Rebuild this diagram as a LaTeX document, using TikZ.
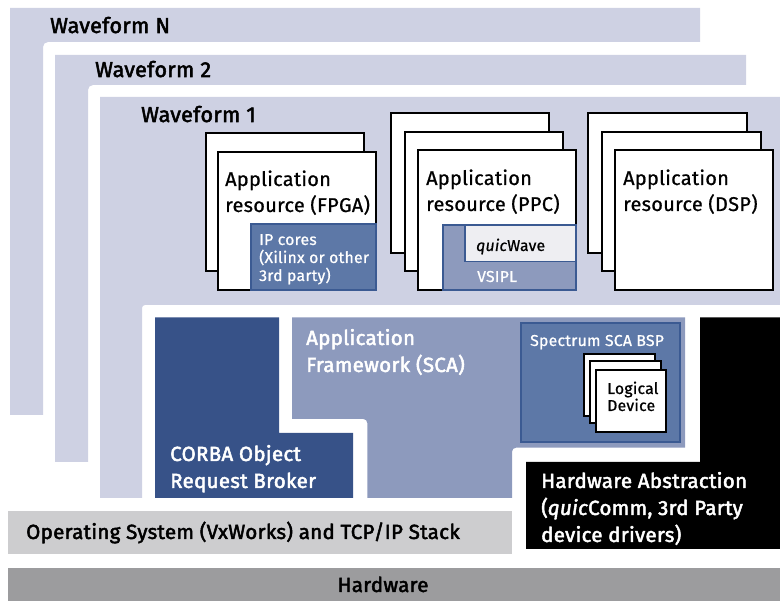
\documentclass[tikz,border=0pt]{standalone}
\usepackage{fontspec}
\setmainfont[LetterSpace=1.5,UprightFeatures={FakeBold=0.8},ItalicFeatures={FakeBold=0.8}]{Fira Sans}
\newfontfamily\semib[LetterSpace=1.5,UprightFeatures={FakeBold=2.4},ItalicFeatures={FakeBold=2.4}]{Fira Sans}
\definecolor{lav}{HTML}{CED1E3}
\definecolor{navy}{HTML}{375288}
\definecolor{midblue}{HTML}{8D9ABD}
\definecolor{steel}{HTML}{5D78A7}
\definecolor{steeledge}{HTML}{3B5A92}
\definecolor{pale}{HTML}{EEEEF2}
\definecolor{osgray}{HTML}{CDCDCF}
\definecolor{hwgray}{HTML}{9C9C9E}
\tikzset{
  x=1pt,y=-1pt,
  card/.style={draw=black,line width=2pt,fill=white},
  tinycard/.style={draw=black,line width=1.6pt,fill=white},
  band/.style={fill=lav},
  sub/.style={draw=steeledge,line width=1.5pt},
  lbl/.style={anchor=base west,inner sep=0pt,font=\fontsize{19.9}{22}\selectfont,align=left},
  head/.style={anchor=base west,inner sep=0pt,font=\semib\fontsize{20.5}{22}\selectfont,align=left},
  wave/.style={anchor=base west,inner sep=0pt,font=\semib\fontsize{21.5}{22}\selectfont,align=left},
  headw/.style={head,text=white},
  small/.style={anchor=base west,inner sep=0pt,font=\fontsize{15.8}{18}\selectfont,align=left},
  smallw/.style={small,text=white}
}
\begin{document}
\begin{tikzpicture}
\useasboundingbox (0,0) rectangle (780,601);
% waveform bands
\fill[band] (10,8) -- (700,8) -- (700,42) [rounded corners=5pt] -- (43,42) [sharp corners] -- (43,415) -- (10,415) -- cycle;
\fill[band] (55,55) -- (746,55) -- (746,85) [rounded corners=5pt] -- (88,85) [sharp corners] -- (88,462) -- (55,462) -- cycle;
\fill[band] (100,97) -- (780,97) -- (780,305) [rounded corners=3pt] -- (142,305) [sharp corners] -- (142,498) -- (100,498) -- cycle;
\node[wave] (wn) at (50,33) {Waveform N};
\node[wave] (w2) at (95,77) {Waveform 2};
\node[wave] (w1) at (141,122) {Waveform 1};
% FPGA
\draw[card] (206,133) rectangle (364,271);
\draw[card] (218,152) rectangle (376,290);
\node[lbl] (afpga) at (225,186) {Application};
\node[lbl] (rfpga) at (225,212) {resource (FPGA)};
\draw[sub,fill=steel] (251,224) rectangle (376,290);
\node[smallw] (ip1) at (259,245) {IP cores};
\node[smallw] (ip2) at (259,263) {(Xilinx or other};
\node[smallw] (ip3) at (259,281) {3rd party)};
% PPC
\draw[card] (391,113) rectangle (549,253);
\draw[card] (405,132) rectangle (563,271);
\draw[card] (418,150) rectangle (576,290);
\node[lbl] (appc) at (426,185) {Application};
\node[lbl] (rppc) at (426,211) {resource (PPC)};
\draw[sub,fill=midblue] (443,225) rectangle (576,290);
\draw[sub,fill=pale] (465,225) rectangle (576,261.5);
\node[small] (qw) at (476,251) {\textit{quic}Wave};
\node[smallw] (vs) at (477,282) {VSIPL};
% DSP
\draw[card] (588,113) rectangle (747,253);
\draw[card] (602,132) rectangle (761,271);
\draw[card] (615,150.5) rectangle (773,290);
\node[lbl] (adsp) at (623,185) {Application};
\node[lbl] (rdsp) at (623,211) {resource (DSP)};
% CORBA
\fill[navy] (155,317.5) -- (279,317.5) -- (279,433) -- (353,433) -- (353,498) -- (155,498) -- cycle;
\node[headw] (c1) at (170,461) {CORBA Object};
\node[headw] (c2) at (170,488) {Request Broker};
% Application framework
\fill[midblue] (292,317.5) -- (685,317.5) -- (685,447.7) [rounded corners=4pt] -- (512,447.7) [sharp corners] -- (512,498) -- (367.3,498) [rounded corners=4pt] -- (367.3,419) [sharp corners] -- (292,419) -- cycle;
\node[headw] (f1) at (306,345) {Application};
\node[headw] (f2) at (306,372) {Framework (SCA)};
% BSP
\draw[sub,fill=steel] (521,323) rectangle (680,442);
\node[smallw] (bsp) at (530,346) {Spectrum SCA BSP};
\draw[tinycard] (584,354) rectangle (655,416);
\draw[tinycard] (590,361) rectangle (661,423);
\draw[tinycard] (596,370) rectangle (666,432);
\node[small] (ld1) at (607,394) {Logical};
\node[small] (ld2) at (607,411) {Device};
% hardware abstraction
\fill[black] (700,317.5) -- (780,317.5) -- (780,549) -- (526,549) -- (526,462) -- (700,462) -- cycle;
\node[headw] (h1) at (541,488) {Hardware Abstraction};
\node[headw] (h2) at (541,515) {(\textit{quic}Comm, 3rd Party};
\node[headw] (h3) at (541,542) {device drivers)};
% OS and hardware
\fill[osgray] (8,511) rectangle (512,554);
\node[head] (os) at (26,539) {Operating System (VxWorks) and TCP/IP Stack};
\fill[hwgray] (8,568) rectangle (780,601);
\node[head,anchor=base] (hw) at (383,592) {Hardware};
\end{tikzpicture}
\end{document}
